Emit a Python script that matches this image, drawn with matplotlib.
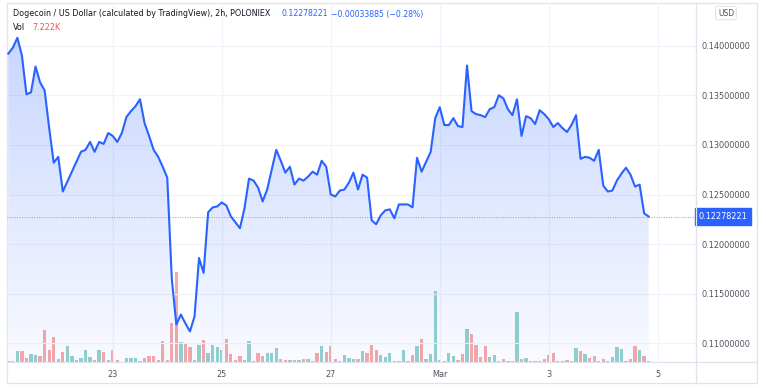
import numpy as np
import pandas as pd
import matplotlib
matplotlib.use("Agg")
import matplotlib.pyplot as plt
import matplotlib.dates as mdates
from matplotlib.lines import Line2D
from matplotlib.patches import Rectangle
from matplotlib.colors import to_rgba

# 2h DOGE/USD closes
price = [
    0.1392, 0.1398, 0.1408, 0.1390, 0.1351, 0.1353, 0.1379, 0.1363, 0.1355, 0.1317,
    0.1282, 0.1288, 0.1253, 0.1263, 0.1273, 0.1283, 0.1293, 0.1295, 0.1303, 0.1293,
    0.1303, 0.1301, 0.1312, 0.1309, 0.1303, 0.1312, 0.1328, 0.1334, 0.1339, 0.1346,
    0.1322, 0.1309, 0.1295, 0.1288, 0.1278, 0.1267, 0.1165, 0.1119, 0.1129, 0.1120,
    0.1112, 0.1127, 0.1186, 0.1171, 0.1232, 0.1237, 0.1238, 0.1242, 0.1239, 0.1228,
    0.1222, 0.1216, 0.1236, 0.1266, 0.1264, 0.1257, 0.1243, 0.1255, 0.1275, 0.1295,
    0.1284, 0.1272, 0.1278, 0.1260, 0.1266, 0.1264, 0.1268, 0.1273, 0.1270, 0.1284,
    0.1278, 0.1250, 0.1248, 0.1254, 0.1255, 0.1262, 0.1272, 0.1255, 0.1270, 0.1267,
    0.1224, 0.1220, 0.1229, 0.1234, 0.1235, 0.1226, 0.1240, 0.1240, 0.1240, 0.1237,
    0.1287, 0.1273, 0.1283, 0.1293, 0.1327, 0.1338, 0.1320, 0.1320, 0.1327, 0.1319,
    0.1318, 0.1380, 0.1334, 0.1331, 0.1330, 0.1328, 0.1336, 0.1338, 0.1350, 0.1347,
    0.1336, 0.1330, 0.1346, 0.1309, 0.1329, 0.1327, 0.1321, 0.1335, 0.1331, 0.1326,
    0.1318, 0.1322, 0.1317, 0.1313, 0.1320, 0.1330, 0.1286, 0.1288, 0.1287, 0.1284,
    0.1295, 0.1259, 0.1253, 0.1254, 0.1264, 0.1271, 0.1277, 0.1270, 0.1258, 0.1260,
    0.1231, 0.12278221,
]

# relative volume per bar
volume = [
    2, 2, 34, 34, 12, 24, 21, 18, 95, 37, 75, 10, 31, 47, 18, 7, 11, 37, 15, 5,
    37, 30, 7, 37, 5, 1, 11, 11, 11, 3, 11, 18, 18, 5, 64, 7, 117, 271, 59, 55,
    45, 5, 51, 66, 27, 50, 45, 35, 70, 24, 5, 18, 7, 63, 2, 27, 18, 27, 28, 41,
    9, 5, 7, 5, 7, 9, 9, 3, 27, 47, 30, 47, 10, 3, 21, 13, 9, 9, 33, 26,
    51, 36, 21, 15, 26, 4, 4, 36, 4, 20, 49, 68, 10, 23, 213, 7, 4, 26, 18, 6,
    24, 99, 83, 51, 15, 47, 15, 21, 4, 9, 4, 4, 149, 9, 11, 4, 4, 4, 9, 20,
    26, 2, 2, 6, 2, 42, 33, 24, 13, 17, 2, 8, 2, 14, 44, 40, 3, 9, 47, 35,
    17, 2,
]

times = pd.date_range("2022-02-21 02:00", periods=len(price), freq="2h")
date_ticks = pd.to_datetime(["2022-02-23", "2022-02-25", "2022-02-27",
                             "2022-03-01", "2022-03-03", "2022-03-05"])
date_labels = ["23", "25", "27", "Mar", "3", "5"]
price_ticks = [0.110, 0.115, 0.120, 0.125, 0.130, 0.135, 0.140]

BLUE = "#2962ff"
UP = "#92d2cc"
DOWN = "#f7a9a7"
GRID = "#f0f3fa"
BORDER = "#e0e3eb"
TXT = "#131722"

W, H = 766, 388
fig = plt.figure(figsize=(W / 100, H / 100), dpi=100)
fig.patch.set_facecolor("white")


def fx(px):
    return px / W


def fy(py):
    return 1 - py / H


left, right, top, bottom = 7, 696, 3, 362
ax = fig.add_axes([fx(left), fy(bottom), fx(right - left), fy(top) - fy(bottom)])
axv = ax.twinx()
ax.set_zorder(axv.get_zorder() + 1)
ax.patch.set_visible(False)

x = mdates.date2num(times)
x0 = x[0]
px_per_day = 54.5
ax.set_xlim(x0 - (8.3 - left) / px_per_day, x0 + (right - 8.3) / px_per_day)
ppx = 0.0001008
ax.set_ylim(0.14 - (bottom - 45.7) * ppx, 0.14 + (45.7 - top) * ppx)
axv.set_ylim(0, (bottom - top) * 3)

# volume bars
closes = np.array(price)
colors = [UP] + [UP if closes[i] >= closes[i - 1] else DOWN for i in range(1, len(closes))]
axv.bar(x, volume, width=0.72 / 12, color=colors, linewidth=0)

# gradient area under the line
xmin, xmax = ax.get_xlim()
ymin, ymax = ax.get_ylim()
poly = ax.fill_between(x, price, ymin, color="none", linewidth=0)
grad = np.linspace(0.26, 0.03, 256)
rgba = np.zeros((256, 1, 4))
rgba[..., :3] = to_rgba(BLUE)[:3]
rgba[:, 0, 3] = grad
top_price = max(price)
im = ax.imshow(rgba, aspect="auto", extent=[x[0], x[-1], ymin, top_price],
               origin="upper", zorder=1, interpolation="bilinear")
path = poly.get_paths()[0]
im.set_clip_path(path, transform=ax.transData)
ax.set_xlim(xmin, xmax)
ax.set_ylim(ymin, ymax)

ax.plot(x, price, color=BLUE, lw=1.5, zorder=3, solid_joinstyle="round")
ax.axhline(price[-1], color="#7e9cf8", lw=0.7, ls=(0, (1, 1.5)), zorder=2)

# grid
for t in mdates.date2num(date_ticks):
    ax.axvline(t, color=GRID, lw=0.9, zorder=0)
for p in price_ticks:
    ax.axhline(p, color=GRID, lw=0.9, zorder=0)

ax.set_xticks(mdates.date2num(date_ticks))
ax.set_xticklabels(date_labels)
ax.yaxis.tick_right()
ax.set_yticks(price_ticks)
ax.set_yticklabels([f"{p:.8f}" for p in price_ticks])
ax.tick_params(axis="both", length=0, labelsize=5.9, colors="#50535e")
ax.tick_params(axis="y", pad=4)
ax.tick_params(axis="x", pad=6)
axv.tick_params(axis="y", right=False, labelright=False)
for a in (ax, axv):
    for s in a.spines.values():
        s.set_visible(False)

# last price tag
ax.text(1.004, price[-1], f"{price[-1]:.8f}", transform=ax.get_yaxis_transform(),
        ha="left", va="center", fontsize=5.9, color="white", clip_on=False,
        bbox=dict(boxstyle="square,pad=0.45", facecolor=BLUE, edgecolor=BLUE),
        zorder=5)

# frame lines
fig.add_artist(Rectangle((fx(7), fy(383)), fx(757 - 7), fy(3) - fy(383),
                         transform=fig.transFigure, fill=False, edgecolor=BORDER, lw=0.9))
fig.add_artist(Line2D([fx(696), fx(696)], [fy(3), fy(383)], color=BORDER, lw=0.9))
fig.add_artist(Line2D([fx(7), fx(757)], [fy(362), fy(362)], color=BORDER, lw=0.9))

# header
fig.text(fx(13), fy(14), "Dogecoin / US Dollar (calculated by TradingView), 2h, POLONIEX",
         fontsize=5.8, color=TXT, va="center")
fig.text(fx(282), fy(14), "0.12278221", fontsize=5.6, color=BLUE, va="center")
fig.text(fx(331), fy(14), "\u22120.00033885 (\u22120.28%)", fontsize=5.6, color=BLUE, va="center")
fig.text(fx(13), fy(27), "Vol", fontsize=5.8, color=TXT, va="center")
fig.text(fx(32), fy(27), "7.222K", fontsize=5.8, color="#ef5350", va="center")
fig.text(fx(726), fy(13), "USD", fontsize=5.5, color="#50535e", ha="center", va="center",
         bbox=dict(boxstyle="round,pad=0.3,rounding_size=0.3", facecolor="white",
                   edgecolor=BORDER, lw=0.8))

fig.savefig("out.png", dpi=100)
